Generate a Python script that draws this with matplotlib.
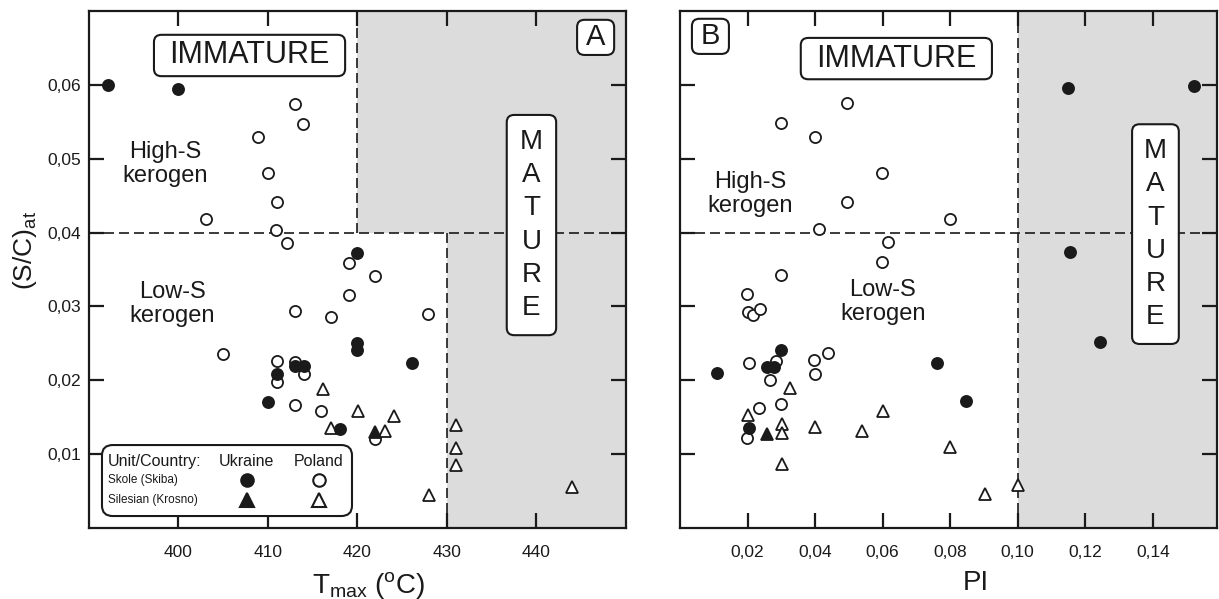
import matplotlib
matplotlib.use("Agg")
import matplotlib.pyplot as plt
from matplotlib.patches import FancyBboxPatch
from matplotlib.ticker import FuncFormatter

plt.rcParams['font.family'] = ['Liberation Sans', 'DejaVu Sans']
plt.rcParams['mathtext.fontset'] = 'custom'
plt.rcParams['mathtext.rm'] = 'Liberation Sans'
plt.rcParams['mathtext.it'] = 'Liberation Sans:italic'

# ---- panel A : Tmax vs (S/C)at ----
tmax_skole_ua = [392.1, 400.0, 420.0, 420.0, 420.0, 426.1, 413.0, 414.0, 411.0, 410.0, 418.0]
sc_skole_ua = [0.0600, 0.0594, 0.0373, 0.0250, 0.0241, 0.0223, 0.0219, 0.0219, 0.0208, 0.0171, 0.0134]

tmax_skole_pl = [413.0, 413.9, 408.9, 410.0, 411.0, 403.1, 410.9, 412.1, 419.1, 422.0, 419.1,
                 413.0, 417.0, 427.9, 405.0, 411.0, 413.0, 414.0, 411.0, 413.0, 415.9, 422.0]
sc_skole_pl = [0.0574, 0.0547, 0.0529, 0.0481, 0.0441, 0.0418, 0.0404, 0.0386, 0.0359, 0.0341, 0.0316,
               0.0294, 0.0286, 0.0290, 0.0235, 0.0226, 0.0225, 0.0208, 0.0198, 0.0166, 0.0159, 0.0121]

tmax_sil_ua = [422.0]
sc_sil_ua = [0.0130]

tmax_sil_pl = [416.1, 420.1, 424.1, 417.0, 423.1, 431.0, 431.0, 431.0, 428.0, 444.0]
sc_sil_pl = [0.0188, 0.0158, 0.0152, 0.0135, 0.0131, 0.0139, 0.0109, 0.0085, 0.0045, 0.0056]

# ---- panel B : PI vs (S/C)at ----
pi_skole_ua = [0.1148, 0.1521, 0.1155, 0.1245, 0.0761, 0.0847, 0.0299, 0.0259, 0.0279, 0.0109, 0.0205]
scb_skole_ua = [0.0596, 0.0599, 0.0374, 0.0252, 0.0224, 0.0172, 0.0241, 0.0218, 0.0218, 0.0210, 0.0136]

pi_skole_pl = [0.0496, 0.0299, 0.0400, 0.0598, 0.0496, 0.0800, 0.0412, 0.0615, 0.0598, 0.0299, 0.0198,
               0.0200, 0.0215, 0.0238, 0.0284, 0.0205, 0.0266, 0.0396, 0.0437, 0.0400, 0.0299, 0.0235, 0.0198]
scb_skole_pl = [0.0575, 0.0548, 0.0530, 0.0481, 0.0441, 0.0419, 0.0405, 0.0387, 0.0360, 0.0343, 0.0317,
                0.0292, 0.0289, 0.0296, 0.0226, 0.0223, 0.0200, 0.0227, 0.0237, 0.0208, 0.0168, 0.0162, 0.0122]

pi_sil_ua = [0.0257]
scb_sil_ua = [0.0127]

pi_sil_pl = [0.0327, 0.0200, 0.0301, 0.0301, 0.0401, 0.0538, 0.0600, 0.0301, 0.0801, 0.0903, 0.1002]
scb_sil_pl = [0.0190, 0.0153, 0.0141, 0.0129, 0.0137, 0.0131, 0.0159, 0.0087, 0.0110, 0.0046, 0.0058]

yticks = [0.01, 0.02, 0.03, 0.04, 0.05, 0.06]
tmax_ticks = [400, 410, 420, 430, 440]
pi_ticks = [0.02, 0.04, 0.06, 0.08, 0.10, 0.12, 0.14]

INK = '#1a1a1a'
SHADE = '#dcdcdc'
comma = FuncFormatter(lambda v, p: f"{v:.2f}".replace('.', ','))


def boxed(ax, x0, y0, x1, y1, txt, size, linespacing=1.2):
    ax.add_patch(FancyBboxPatch((x0, y0), x1 - x0, y1 - y0,
                                boxstyle='round,pad=0,rounding_size=0.014',
                                transform=ax.transAxes, fc='white', ec=INK,
                                lw=1.5, zorder=6, clip_on=False))
    ax.text((x0 + x1) / 2, (y0 + y1) / 2, txt, transform=ax.transAxes,
            ha='center', va='center', fontsize=size, color=INK,
            linespacing=linespacing, zorder=7)


def style(ax, xticks):
    for s in ax.spines.values():
        s.set_linewidth(1.6)
        s.set_color(INK)
    ax.set_xticks(xticks)
    ax.set_yticks(yticks)
    ax.tick_params(direction='in', length=11, width=1.6, colors=INK,
                   top=True, right=True, labelsize=12.5)
    ax.tick_params(axis='x', pad=12)
    ax.tick_params(axis='y', pad=6)


def scatter(ax, xs, ys, marker, filled, ms):
    ax.plot(xs, ys, ls='none', marker=marker, ms=ms,
            mfc=INK if filled else 'white', mec=INK, mew=1.3, zorder=5)


fig = plt.figure(figsize=(12.19, 5.99), dpi=100)
axA = fig.add_axes([0.0730, 0.1185, 0.4405, 0.8631])
axB = fig.add_axes([0.5578, 0.1185, 0.4405, 0.8631])

# panel A
axA.set_xlim(390, 450)
axA.set_ylim(0, 0.07)
axA.fill_between([420, 450], 0.04, 0.07, color=SHADE, lw=0, zorder=0)
axA.fill_between([430, 450], 0, 0.04, color=SHADE, lw=0, zorder=0)
axA.axhline(0.04, color=INK, lw=1.2, ls=(0, (6, 3)), zorder=2)
axA.plot([420, 420], [0.04, 0.07], color=INK, lw=1.2, ls=(0, (6, 3)), zorder=2)
axA.plot([430, 430], [0, 0.04], color=INK, lw=1.2, ls=(0, (6, 3)), zorder=2)

scatter(axA, tmax_skole_pl, sc_skole_pl, 'o', False, 8)
scatter(axA, tmax_sil_pl, sc_sil_pl, '^', False, 9)
scatter(axA, tmax_skole_ua, sc_skole_ua, 'o', True, 8)
scatter(axA, tmax_sil_ua, sc_sil_ua, '^', True, 9)

style(axA, tmax_ticks)
axA.yaxis.set_major_formatter(comma)
axA.set_ylabel(r'(S/C)$_{\rm at}$', fontsize=19, color=INK)
axA.yaxis.set_label_coords(-0.093, 0.536)
axA.set_xlabel(r'T$_{\rm max}$ ($^{\rm o}$C)', fontsize=20, color=INK)
axA.xaxis.set_label_coords(0.52, -0.082)

axA.text(0.1415, 0.704, 'High-S\nkerogen', transform=axA.transAxes,
         ha='center', va='center', fontsize=17, color=INK, linespacing=1.15)
axA.text(0.1546, 0.433, 'Low-S\nkerogen', transform=axA.transAxes,
         ha='center', va='center', fontsize=17, color=INK, linespacing=1.15)
boxed(axA, 0.121, 0.874, 0.477, 0.954, 'IMMATURE', 22)
boxed(axA, 0.909, 0.915, 0.978, 0.983, 'A', 21)
boxed(axA, 0.778, 0.373, 0.870, 0.799, 'M\nA\nT\nU\nR\nE', 20, linespacing=1.36)

# legend table
axA.add_patch(FancyBboxPatch((0.0242, 0.0232), 0.4656, 0.1373,
                             boxstyle='round,pad=0,rounding_size=0.02',
                             transform=axA.transAxes, fc='white', ec=INK,
                             lw=1.5, zorder=6))
axA.text(0.0354, 0.1277, 'Unit/Country:', transform=axA.transAxes,
         ha='left', va='center', fontsize=11.5, color=INK, zorder=7)
axA.text(0.294, 0.1277, 'Ukraine', transform=axA.transAxes,
         ha='center', va='center', fontsize=11.5, color=INK, zorder=7)
axA.text(0.428, 0.1277, 'Poland', transform=axA.transAxes,
         ha='center', va='center', fontsize=11.5, color=INK, zorder=7)
axA.text(0.0354, 0.0928, 'Skole (Skiba)', transform=axA.transAxes,
         ha='left', va='center', fontsize=8.5, color=INK, zorder=7)
axA.text(0.0354, 0.0542, 'Silesian (Krosno)', transform=axA.transAxes,
         ha='left', va='center', fontsize=8.5, color=INK, zorder=7)
for lx, filled in [(0.294, True), (0.428, False)]:
    for ly, mk, ms in [(0.0928, 'o', 9), (0.0542, '^', 10)]:
        axA.plot([lx], [ly], transform=axA.transAxes, ls='none', marker=mk,
                 ms=ms, mfc=INK if filled else 'white', mec=INK, mew=1.5,
                 zorder=8, clip_on=False)

# panel B
axB.set_xlim(0, 0.159)
axB.set_ylim(0, 0.07)
axB.axvspan(0.10, 0.159, color=SHADE, lw=0, zorder=0)
axB.axhline(0.04, color=INK, lw=1.2, ls=(0, (6, 3)), zorder=2)
axB.axvline(0.10, color=INK, lw=1.2, ls=(0, (6, 3)), zorder=2)

scatter(axB, pi_skole_pl, scb_skole_pl, 'o', False, 8)
scatter(axB, pi_sil_pl, scb_sil_pl, '^', False, 9)
scatter(axB, pi_skole_ua, scb_skole_ua, 'o', True, 8)
scatter(axB, pi_sil_ua, scb_sil_ua, '^', True, 9)

style(axB, pi_ticks)
axB.xaxis.set_major_formatter(comma)
axB.tick_params(axis='y', labelleft=False)
axB.set_xlabel('PI', fontsize=20, color=INK)
axB.xaxis.set_label_coords(0.551, -0.082)

axB.text(0.130, 0.646, 'High-S\nkerogen', transform=axB.transAxes,
         ha='center', va='center', fontsize=17, color=INK, linespacing=1.15)
axB.text(0.378, 0.437, 'Low-S\nkerogen', transform=axB.transAxes,
         ha='center', va='center', fontsize=17, color=INK, linespacing=1.15)
boxed(axB, 0.0223, 0.917, 0.0912, 0.985, 'B', 21)
boxed(axB, 0.225, 0.868, 0.581, 0.948, 'IMMATURE', 22)
boxed(axB, 0.842, 0.356, 0.929, 0.781, 'M\nA\nT\nU\nR\nE', 20, linespacing=1.36)

fig.savefig('out.png', dpi=100, facecolor='white')
